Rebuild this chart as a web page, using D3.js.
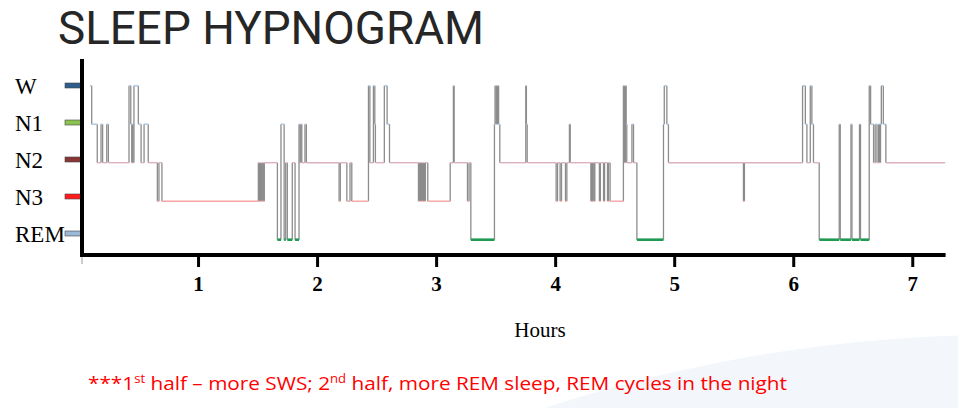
<!DOCTYPE html>
<html>
<head>
<meta charset="utf-8">
<script src="https://cdn.jsdelivr.net/npm/d3@7"></script>
<style>
  body { margin: 0; background: #fff; }
  svg { display: block; }
</style>
</head>
<body>
<svg id="chart"></svg>
<script>
// sleep stages, top to bottom
const stages = ["W", "N1", "N2", "N3", "REM"];

// hour ticks on the x axis
const hourTicks = [1, 2, 3, 4, 5, 6, 7];

// stage changes: [minute from lights out, stage entered]
const hypnogram = [
  [5.5, "W"], [6.4, "N1"], [9.2, "N2"], [11.1, "N1"], [11.9, "N2"], [14.0, "N1"], [14.8, "N2"],
  [25.2, "W"], [26.1, "N1"], [26.6, "N2"], [26.9, "N1"], [27.2, "N2"], [27.7, "W"], [29.9, "N1"],
  [31.3, "N2"], [32.8, "N1"], [34.9, "N2"],
  [39.5, "N3"], [40.3, "N2"], [41.8, "N3"],
  [90.4, "N2"], [90.9, "N3"], [91.4, "N2"], [91.9, "N3"], [92.4, "N2"], [92.9, "N3"], [93.4, "N2"],
  [100.0, "REM"], [101.8, "N1"], [103.4, "REM"], [104.2, "N2"], [105.0, "REM"], [107.5, "N2"], [108.9, "REM"],
  [110.9, "N1"], [111.4, "N2"], [111.8, "N1"], [112.3, "N2"], [113.9, "N1"], [114.6, "N2"],
  [131.1, "N3"], [131.7, "N2"], [135.0, "N3"], [136.6, "N2"], [137.5, "N3"],
  [145.9, "W"], [146.6, "N2"], [148.4, "W"], [149.1, "N1"], [149.4, "N2"], [153.9, "W"], [155.3, "N1"], [156.5, "N2"],
  [171.1, "N3"], [171.6, "N2"], [172.1, "N3"], [172.6, "N2"], [173.1, "N3"], [173.6, "N2"], [174.1, "N3"],
  [174.6, "N2"], [175.8, "N3"],
  [187.1, "N2"], [188.7, "W"], [189.1, "N2"], [195.8, "N3"], [196.6, "N2"],
  [197.5, "REM"],
  [209.4, "N1"], [209.7, "W"], [210.2, "N1"], [210.5, "W"], [210.9, "N1"], [211.2, "W"], [211.5, "N1"], [212.1, "N2"],
  [225.2, "W"], [225.5, "N1"], [225.9, "N2"],
  [240.5, "N3"], [241.2, "N2"], [242.5, "N3"], [243.2, "N2"], [245.2, "N3"], [245.9, "N2"], [247.2, "N1"], [247.6, "N2"],
  [258.0, "N3"], [258.4, "N2"], [258.8, "N3"], [259.2, "N2"], [259.7, "N3"], [260.0, "N2"],
  [262.3, "N3"], [262.8, "N2"], [264.4, "N3"], [264.9, "N2"], [266.4, "N3"], [266.9, "N2"], [267.7, "N3"],
  [274.4, "W"], [274.9, "N2"], [275.4, "W"], [275.8, "N1"], [276.1, "N2"], [278.7, "N1"], [279.5, "N2"],
  [281.2, "REM"],
  [294.6, "N1"], [295.0, "W"], [296.3, "N1"], [297.1, "N2"],
  [334.9, "N3"], [335.4, "N2"],
  [364.7, "W"], [366.1, "N1"], [366.9, "N2"], [368.6, "W"], [369.4, "N1"], [370.2, "N2"],
  [373.1, "REM"], [383.2, "N1"], [383.7, "REM"], [389.1, "N1"], [389.6, "REM"], [393.4, "N1"], [393.9, "REM"],
  [398.3, "W"], [399.0, "N1"], [400.5, "N2"], [401.3, "N1"], [402.2, "N2"], [403.0, "N1"], [403.5, "N2"],
  [404.0, "N1"], [404.4, "W"], [405.4, "N1"], [406.7, "N2"]
];

const recordEnd = 436.6; // minutes
const axisEnd = 7.28;    // hours

const width = 958, height = 408;

const svg = d3.select("#chart").attr("width", width).attr("height", height);

// faint slide decoration, bottom right
svg.append("circle")
  .attr("cx", 1000).attr("cy", 1789).attr("r", 1454)
  .attr("fill", "#f3f7fb");

svg.append("text")
  .attr("x", 58).attr("y", 44)
  .attr("font-family", "Roboto")
  .attr("font-size", 46)
  .attr("fill", "#262626")
  .attr("textLength", 426)
  .attr("lengthAdjust", "spacingAndGlyphs")
  .text("SLEEP HYPNOGRAM");

const x = d3.scaleLinear().domain([0, axisEnd]).range([79, 945.6]);
const yTrace = d3.scalePoint().domain(stages).range([85.7, 239.7]);
const yLabel = d3.scalePoint().domain(stages).range([85.5, 233.5]);

const lineColor = d3.scaleOrdinal(stages, ["#a9c7e4", "#a9c7e4", "#dcb0c0", "#f6a3a3", "#1f9a52"]);
const tickColor = d3.scaleOrdinal(stages, ["#2f5d8c", "#8cc350", "#8b3636", "#ff1c1c", "#9bb8d7"]);

// build segments from the stage changes
const segments = hypnogram.map((d, i) => ({
  stage: d[1],
  start: d[0] / 60,
  end: (i < hypnogram.length - 1 ? hypnogram[i + 1][0] : recordEnd) / 60,
}));
const jumps = segments.slice(1).map((d, i) => ({
  t: d.start,
  from: segments[i].stage,
  to: d.stage,
}));

const plot = svg.append("g");

plot.selectAll("line.jump")
  .data(jumps)
  .join("line")
  .attr("class", "jump")
  .attr("x1", (d) => x(d.t))
  .attr("x2", (d) => x(d.t))
  .attr("y1", (d) => yTrace(d.from))
  .attr("y2", (d) => yTrace(d.to))
  .attr("stroke", "#8c8c8c")
  .attr("stroke-width", 1.3);

plot.selectAll("line.stage")
  .data(segments)
  .join("line")
  .attr("class", "stage")
  .attr("x1", (d) => x(d.start))
  .attr("x2", (d) => x(d.end))
  .attr("y1", (d) => yTrace(d.stage))
  .attr("y2", (d) => yTrace(d.stage))
  .attr("stroke", (d) => lineColor(d.stage))
  .attr("stroke-width", (d) => (d.stage === "REM" ? 2.6 : 1.4));

// y axis: stage names with coloured markers
const yAxis = svg.append("g");
yAxis.selectAll("text")
  .data(stages)
  .join("text")
  .attr("x", 15)
  .attr("y", (d) => yLabel(d) + 8)
  .attr("font-family", "Liberation Serif")
  .attr("font-size", 23)
  .attr("fill", "#000")
  .text((d) => d);

yAxis.selectAll("rect")
  .data(stages)
  .join("rect")
  .attr("x", 65)
  .attr("y", (d) => yLabel(d) - 2.5)
  .attr("width", 17)
  .attr("height", 5)
  .attr("fill", (d) => tickColor(d))
  .attr("stroke", "#444")
  .attr("stroke-width", 0.6);

// x axis
const xAxis = svg.append("g")
  .attr("transform", "translate(0,257)")
  .call(
    d3.axisBottom(x)
      .tickValues(hourTicks)
      .tickSize(10)
      .tickSizeOuter(0)
      .tickPadding(9)
      .tickFormat(d3.format("d"))
  );
xAxis.select(".domain").remove();
xAxis.selectAll(".tick line").attr("stroke", "#000").attr("stroke-width", 3);
xAxis.selectAll(".tick text")
  .attr("font-family", "Liberation Serif")
  .attr("font-weight", "bold")
  .attr("font-size", 21)
  .attr("fill", "#000");

// zero mark
svg.append("line")
  .attr("x1", 82).attr("x2", 82)
  .attr("y1", 257).attr("y2", 264)
  .attr("stroke", "#999").attr("stroke-width", 1);

// axis lines
svg.append("line")
  .attr("x1", 82).attr("x2", 82)
  .attr("y1", 59).attr("y2", 257)
  .attr("stroke", "#000").attr("stroke-width", 4);
svg.append("line")
  .attr("x1", 80).attr("x2", x(axisEnd))
  .attr("y1", 255).attr("y2", 255)
  .attr("stroke", "#000").attr("stroke-width", 4);

svg.append("text")
  .attr("x", 540).attr("y", 337)
  .attr("text-anchor", "middle")
  .attr("font-family", "Liberation Serif")
  .attr("font-size", 21)
  .attr("fill", "#000")
  .text("Hours");

// footnote
const note = svg.append("text")
  .attr("x", 88).attr("y", 390)
  .attr("font-family", "Open Sans")
  .attr("font-size", 19)
  .attr("fill", "#ff0000")
  .attr("textLength", 699)
  .attr("lengthAdjust", "spacingAndGlyphs");
note.append("tspan").text("***1");
note.append("tspan").attr("font-size", 12).attr("dy", -7).text("st");
note.append("tspan").attr("dy", 7).text(" half – more SWS; 2");
note.append("tspan").attr("font-size", 12).attr("dy", -7).text("nd");
note.append("tspan").attr("dy", 7).text(" half, more REM sleep, REM cycles in the night");
</script>
</body>
</html>
